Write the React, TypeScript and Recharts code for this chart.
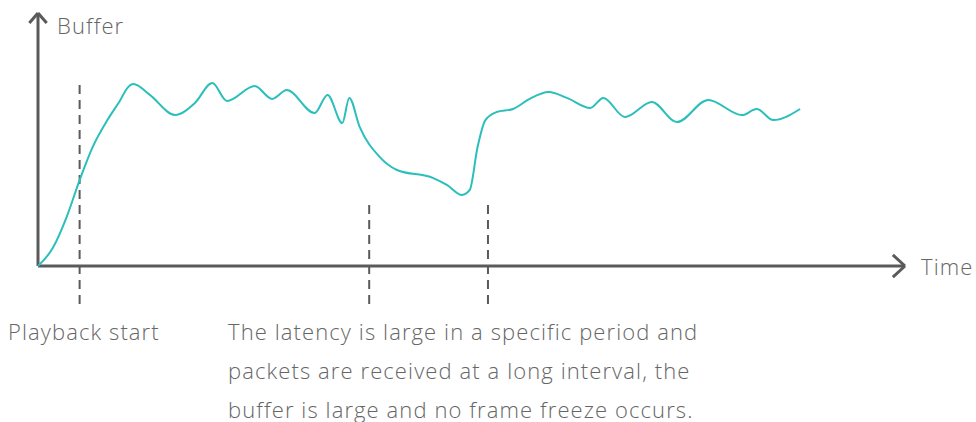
import React from 'react';
import { LineChart, Line, XAxis, YAxis, ReferenceLine } from 'recharts';

// time (0-100) and buffer level (0-100)
const times = [
  0, 1.7, 3.3, 4.8, 6.3, 8.0, 9.5, 10.3, 11.0, 12.9, 15.8, 18.1, 20.1, 21.8, 25.0,
  27.0, 28.7, 31.9, 33.4, 35.1, 35.9, 37.1, 39.4, 41.4, 45.6, 47.2, 48.9, 49.8,
  50.7, 51.6, 52.9, 54.8, 56.7, 58.9, 61.0, 63.7, 65.2, 67.7, 70.8, 73.7, 77.3,
  81.2, 82.9, 84.8, 87.9,
];
const buffer = [
  0, 7.1, 19.4, 34.1, 47.2, 57.9, 65.9, 70.6, 72.2, 67.9, 59.9, 64.7, 72.6, 65.5, 71.4,
  66.3, 69.8, 60.7, 67.9, 56.7, 66.7, 55.2, 43.3, 38.1, 34.9, 32.1, 28.2, 30.2,
  47.2, 57.9, 61.1, 62.3, 66.3, 69.0, 66.7, 62.7, 66.7, 59.1, 65.1, 57.1, 65.9,
  59.9, 62.3, 57.9, 62.3,
];

// event markers: time, top of the dashed line, bottom (below the axis)
const markerTimes = [4.8, 38.2, 51.9];
const markerTops = [71.8, 24.2, 24.2];
const markerBottom = -17.5;

const data = times.map((t, i) => ({ t, buffer: buffer[i] }));

const AXIS = '#5a5a5a';
const TEXT = '#666666';
const font = '"Open Sans", Roboto, sans-serif';

const labelStyle: React.CSSProperties = {
  position: 'absolute',
  fontFamily: font,
  fontWeight: 300,
  fontSize: 22,
  letterSpacing: 1.1,
  color: TEXT,
  whiteSpace: 'nowrap',
  lineHeight: '24px',
};

export default function App() {
  return (
    <div style={{ position: 'absolute', left: 0, top: 0, width: 976, height: 422, background: '#fff' }}>
      <LineChart width={976} height={422} data={data} margin={{ top: 14, right: 71, bottom: 156, left: 38 }}>
        <XAxis dataKey="t" type="number" domain={[0, 100]} height={0} tick={false} tickLine={false} axisLine={false} />
        <YAxis type="number" domain={[0, 100]} width={0} tick={false} tickLine={false} axisLine={false} />
        {markerTimes.map((m, i) => (
          <ReferenceLine
            key={m}
            segment={[{ x: m, y: markerTops[i] }, { x: m, y: markerBottom }]}
            stroke={AXIS}
            strokeWidth={2}
            strokeDasharray="9 6"
            ifOverflow="visible"
          />
        ))}
        {/* axes with arrow heads */}
        <ReferenceLine segment={[{ x: 0, y: 0 }, { x: 100, y: 0 }]} stroke={AXIS} strokeWidth={3} ifOverflow="visible" />
        <ReferenceLine segment={[{ x: 0, y: 0 }, { x: 0, y: 100.4 }]} stroke={AXIS} strokeWidth={3} ifOverflow="visible" />
        <ReferenceLine segment={[{ x: -1.0, y: 96.4 }, { x: 0, y: 100.4 }]} stroke={AXIS} strokeWidth={3} ifOverflow="visible" />
        <ReferenceLine segment={[{ x: 1.0, y: 96.4 }, { x: 0, y: 100.4 }]} stroke={AXIS} strokeWidth={3} ifOverflow="visible" />
        <ReferenceLine segment={[{ x: 98.6, y: 4.4 }, { x: 100, y: 0 }]} stroke={AXIS} strokeWidth={3} ifOverflow="visible" />
        <ReferenceLine segment={[{ x: 98.6, y: -4.4 }, { x: 100, y: 0 }]} stroke={AXIS} strokeWidth={3} ifOverflow="visible" />
        <Line
          type="monotone"
          dataKey="buffer"
          stroke="#2bbfbb"
          strokeWidth={2}
          dot={false}
          isAnimationActive={false}
        />
      </LineChart>
      <div style={{ ...labelStyle, left: 57, top: 13 }}>Buffer</div>
      <div style={{ ...labelStyle, left: 921, top: 254 }}>Time</div>
      <div style={{ ...labelStyle, left: 8, top: 319 }}>Playback start</div>
      <div style={{ ...labelStyle, left: 228, top: 319 - 7.5, lineHeight: '39px' }}>
        The latency is large in a specific period and
        <br />
        packets are received at a long interval, the
        <br />
        buffer is large and no frame freeze occurs.
      </div>
    </div>
  );
}
